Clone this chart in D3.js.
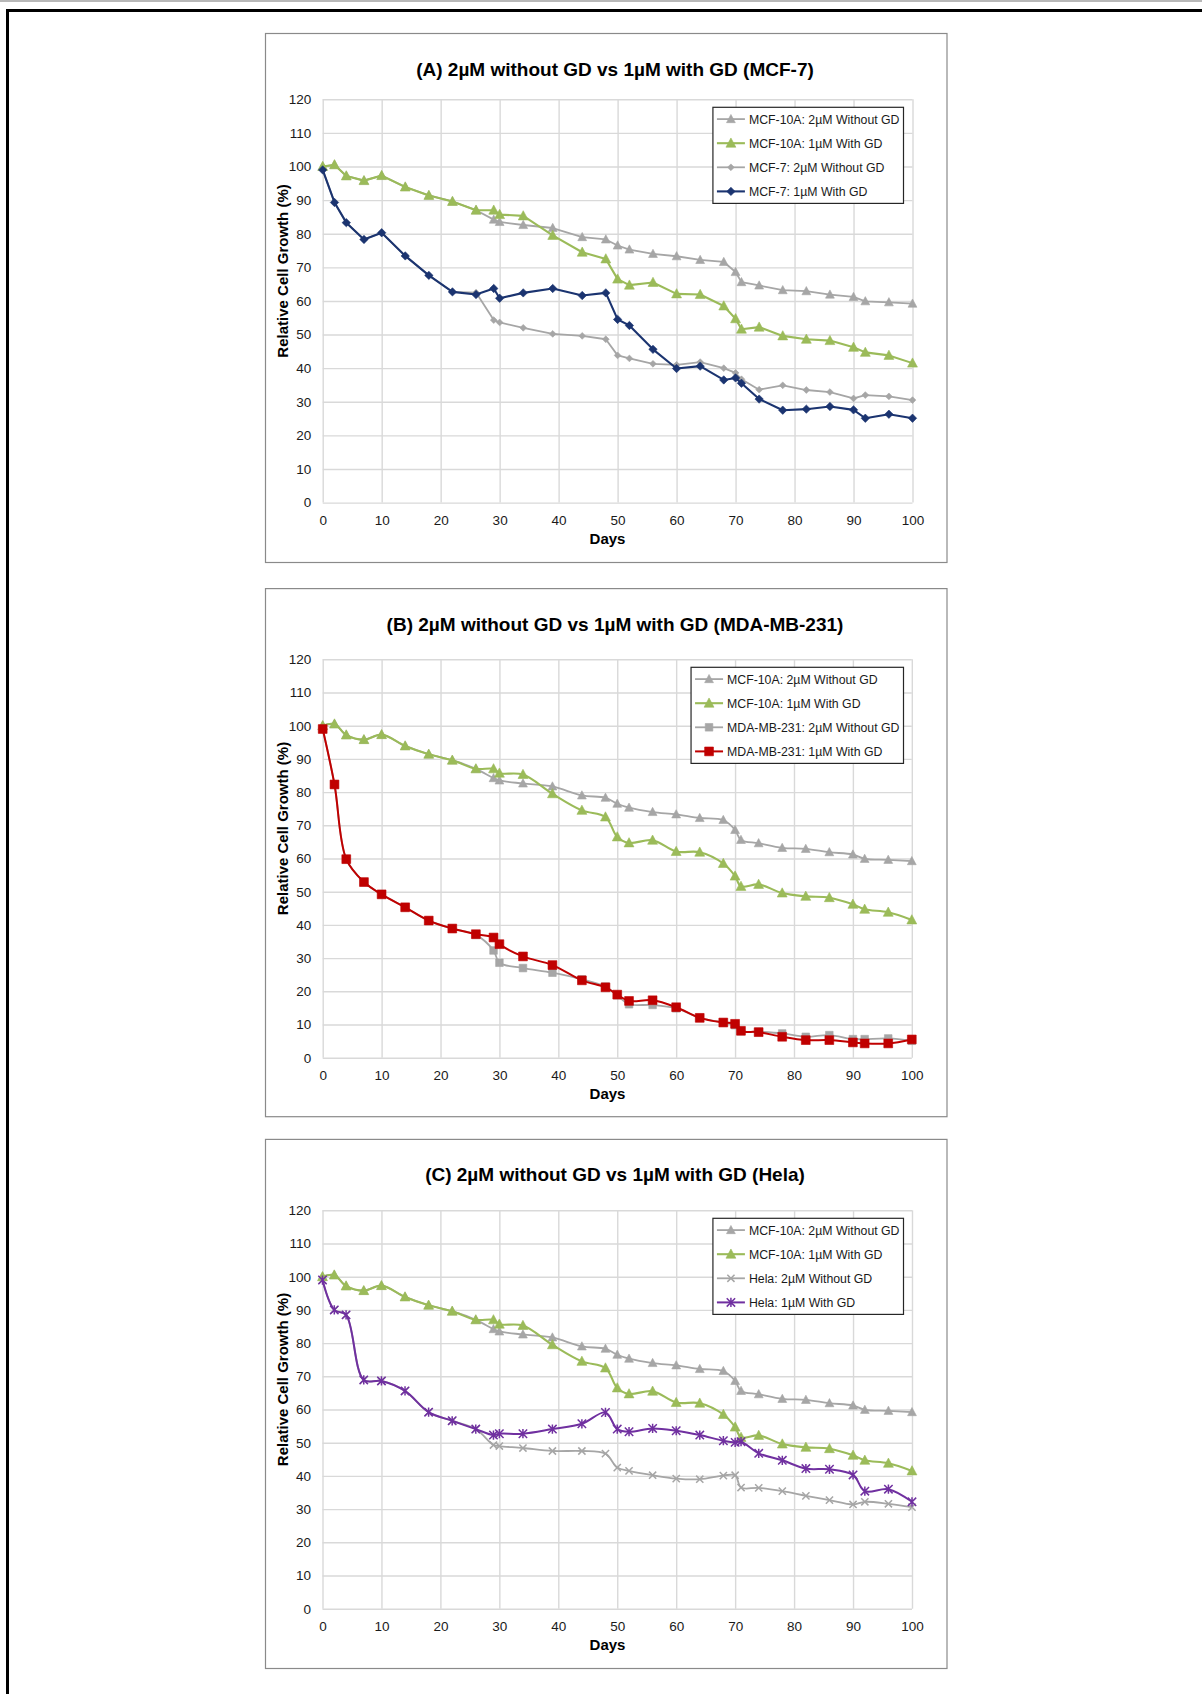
<!DOCTYPE html>
<html>
<head>
<meta charset="utf-8">
<script src="https://cdn.jsdelivr.net/npm/d3@7"></script>
<style>
  html, body { margin: 0; padding: 0; background: #fff; }
  svg { display: block; font-family: "Liberation Sans", Arial, Helvetica, sans-serif; }
</style>
</head>
<body>
<svg id="fig" width="1202" height="1694"></svg>
<script>
// ---- data -------------------------------------------------------------
const days = [0, 2, 4, 7, 10, 14, 18, 22, 26, 29, 30, 34, 39, 44, 48, 50, 52,
              56, 60, 64, 68, 70, 71, 74, 78, 82, 86, 90, 92, 96, 100];

const dayTicks = [0, 10, 20, 30, 40, 50, 60, 70, 80, 90, 100];
const growthTicks = [0, 10, 20, 30, 40, 50, 60, 70, 80, 90, 100, 110, 120];

// normal breast epithelial line (shared by all three panels)
const mcf10aWithoutGD = [100, 100.5, 97.2, 95.8, 97.3, 93.9, 91.4, 89.6, 87.0,
  84.2, 83.5, 82.6, 81.7, 79.0, 78.3, 76.5, 75.3,
  74.0, 73.3, 72.2, 71.6, 68.6, 65.6,
  64.6, 63.2, 62.9, 61.9, 61.2, 59.9, 59.6, 59.2];
const mcf10aWithGD = [100, 100.5, 97.2, 95.8, 97.3, 93.9, 91.4, 89.6, 87.0,
  87.0, 85.7, 85.3, 79.5, 74.5, 72.5, 66.5, 64.7,
  65.5, 62.1, 61.9, 58.5, 54.7, 51.6,
  52.2, 49.6, 48.6, 48.2, 46.2, 44.7, 43.8, 41.5];

// cancer lines
const mcf7WithoutGD = [99.0, 89.3, 83.3, 78.3, 80.3, 73.4, 67.6, 62.7, 62.5,
  54.3, 53.6, 52.0, 50.2, 49.6, 48.6, 43.8, 42.9,
  41.3, 41.0, 41.8, 40.0, 38.6, 36.7,
  33.6, 34.9, 33.5, 32.9, 31.0, 32.0, 31.6, 30.5];
const mcf7WithGD = [99.0, 89.3, 83.3, 78.3, 80.3, 73.4, 67.6, 62.7, 61.9,
  63.7, 60.8, 62.4, 63.7, 61.6, 62.4, 54.5, 52.7,
  45.6, 39.9, 40.6, 36.5, 37.1, 35.5,
  30.8, 27.5, 27.8, 28.6, 27.6, 25.1, 26.3, 25.1];

const mdaWithoutGD = [99.0, 82.3, 59.8, 52.9, 49.2, 45.3, 41.3, 38.9, 37.0,
  32.3, 28.6, 27.0, 25.6, 23.6, 21.4, 18.8, 16.1,
  15.9, 14.9, 12.0, 10.6, 9.8, 8.0,
  7.8, 7.3, 6.3, 6.8, 5.6, 5.6, 5.8, 5.1];
const mdaWithGD = [99.0, 82.3, 59.8, 52.9, 49.2, 45.3, 41.3, 38.9, 37.2,
  36.2, 34.2, 30.5, 27.9, 23.3, 21.2, 19.0, 17.1,
  17.3, 15.2, 12.0, 10.6, 10.2, 8.1,
  7.7, 6.3, 5.3, 5.3, 4.6, 4.3, 4.3, 5.5];

const helaWithoutGD = [99.0, 90.0, 88.5, 68.9, 68.6, 65.6, 59.2, 56.6, 54.1,
  49.3, 49.0, 48.4, 47.5, 47.5, 46.7, 42.5, 41.5,
  40.2, 39.2, 39.0, 40.1, 40.2, 36.5,
  36.4, 35.4, 34.0, 32.7, 31.4, 32.2, 31.6, 30.6];
const helaWithGD = [99.0, 90.0, 88.5, 68.9, 68.6, 65.6, 59.2, 56.6, 54.1,
  52.3, 52.7, 52.7, 54.1, 55.7, 59.1, 54.1, 53.3,
  54.3, 53.6, 52.3, 50.6, 50.1, 50.3,
  46.8, 44.7, 42.2, 42.0, 40.3, 35.4, 36.0, 32.2];

const panelTitles = [
  "(A) 2µM without GD vs 1µM with GD (MCF-7)",
  "(B) 2µM without GD vs 1µM with GD (MDA-MB-231)",
  "(C) 2µM without GD vs 1µM with GD (Hela)"
];
const seriesLabels = [
  ["MCF-10A: 2µM Without GD", "MCF-10A: 1µM With GD", "MCF-7: 2µM Without GD", "MCF-7: 1µM With GD"],
  ["MCF-10A: 2µM Without GD", "MCF-10A: 1µM With GD", "MDA-MB-231: 2µM Without GD", "MDA-MB-231: 1µM With GD"],
  ["MCF-10A: 2µM Without GD", "MCF-10A: 1µM With GD", "Hela: 2µM Without GD", "Hela: 1µM With GD"]
];
const xAxisTitle = "Days";
const yAxisTitle = "Relative Cell Growth (%)";

// ---- styles -----------------------------------------------------------
const GREY = "#a6a6a6";
const GREEN = "#9bbb59";
const NAVY = "#1b3470";
const RED = "#c00000";
const PURPLE = "#7030a0";

const normalStyles = [
  { color: GREY, marker: "triangle", size: 8.5, width: 1.8 },
  { color: GREEN, marker: "triangle", size: 9.5, width: 2.1 }
];

const panels = [
  {
    box: [265.5, 33.5, 947, 562.5],
    plot: { left: 322.7, right: 912.5, top: 99.3, bottom: 502.6 },
    smooth: false,
    series: [mcf10aWithoutGD, mcf10aWithGD, mcf7WithoutGD, mcf7WithGD],
    styles: [...normalStyles,
      { color: GREY, marker: "diamond", size: 3.4, width: 1.8 },
      { color: NAVY, marker: "diamond", size: 4.2, width: 2.1 }]
  },
  {
    box: [265.5, 588.6, 947, 1116.7],
    plot: { left: 322.7, right: 911.8, top: 659.3, bottom: 1057.7 },
    smooth: true,
    series: [mcf10aWithoutGD, mcf10aWithGD, mdaWithoutGD, mdaWithGD],
    styles: [...normalStyles,
      { color: GREY, marker: "square", size: 3.8, width: 1.8 },
      { color: RED, marker: "square", size: 4.4, width: 2.0 }]
  },
  {
    box: [265.5, 1139.4, 947, 1668.5],
    plot: { left: 322.5, right: 912, top: 1210.3, bottom: 1608.7 },
    smooth: true,
    series: [mcf10aWithoutGD, mcf10aWithGD, helaWithoutGD, helaWithGD],
    styles: [...normalStyles,
      { color: GREY, marker: "cross", size: 3.6, width: 1.8 },
      { color: PURPLE, marker: "star", size: 4.2, width: 2.0 }]
  }
];

// ---- helpers ----------------------------------------------------------
function markerPath(type, s) {
  switch (type) {
    case "triangle":
      return `M0,${-s * 0.55}L${s * 0.52},${s * 0.42}L${-s * 0.52},${s * 0.42}Z`;
    case "diamond":
      return `M0,${-s}L${s},0L0,${s}L${-s},0Z`;
    case "square":
      return `M${-s},${-s}H${s}V${s}H${-s}Z`;
    case "cross":
      return `M${-s},${-s}L${s},${s}M${-s},${s}L${s},${-s}`;
    case "star":
      return `M${-s},${-s}L${s},${s}M${-s},${s}L${s},${-s}M0,${-s * 1.1}L0,${s * 1.1}`;
  }
}
const strokedMarker = t => t === "cross" || t === "star";

function drawMarker(sel, st) {
  sel.attr("d", markerPath(st.marker, st.size))
    .attr("fill", strokedMarker(st.marker) ? "none" : st.color)
    .attr("stroke", st.color)
    .attr("stroke-width", strokedMarker(st.marker) ? 1.5 : 0.6)
    .attr("stroke-linejoin", "miter");
}

// ---- drawing ----------------------------------------------------------
const svg = d3.select("#fig");

// page frame
svg.append("rect").attr("x", 0).attr("y", 0).attr("width", 1202).attr("height", 2).attr("fill", "#b8b8b8");
svg.append("rect").attr("x", 6).attr("y", 9).attr("width", 1196).attr("height", 3).attr("fill", "#000");
svg.append("rect").attr("x", 6).attr("y", 9).attr("width", 3).attr("height", 1685).attr("fill", "#000");

panels.forEach((p, pi) => {
  const g = svg.append("g");
  const [bx0, by0, bx1, by1] = p.box;
  const { left, right, top, bottom } = p.plot;

  g.append("rect")
    .attr("x", bx0).attr("y", by0)
    .attr("width", bx1 - bx0).attr("height", by1 - by0)
    .attr("fill", "#fff").attr("stroke", "#8a8a8a").attr("stroke-width", 1.2);

  const x = d3.scaleLinear().domain([0, 100]).range([left, right]);
  const y = d3.scaleLinear().domain([0, 120]).range([bottom, top]);

  // gridlines + tick labels
  const yAxis = g.append("g")
    .attr("transform", `translate(${left},0)`)
    .call(d3.axisLeft(y).tickValues(growthTicks).tickSize(-(right - left)).tickPadding(11.5));
  const xAxis = g.append("g")
    .attr("transform", `translate(0,${bottom})`)
    .call(d3.axisBottom(x).tickValues(dayTicks).tickSize(-(bottom - top)).tickPadding(12.5));
  [xAxis, yAxis].forEach(a => {
    a.select(".domain").remove();
    a.selectAll(".tick line").attr("stroke", "#d9d9d9").attr("stroke-width", 1.4);
    a.selectAll(".tick text")
      .attr("fill", "#1a1a1a")
      .style("font-size", "13.5px")
      .style("font-family", "\"Liberation Sans\", Arial, sans-serif");
  });

  // title
  g.append("text")
    .attr("x", 615).attr("y", by0 + 42)
    .attr("text-anchor", "middle")
    .style("font-size", "19px").style("font-weight", "bold")
    .text(panelTitles[pi]);

  // axis titles
  g.append("text")
    .attr("x", 607.5).attr("y", bottom + 41.5)
    .attr("text-anchor", "middle")
    .style("font-size", "15px").style("font-weight", "bold")
    .text(xAxisTitle);
  g.append("text")
    .attr("transform", `translate(287.5,${(top + bottom) / 2 - 30}) rotate(-90)`)
    .attr("text-anchor", "middle")
    .style("font-size", "15px").style("font-weight", "bold")
    .text(yAxisTitle);

  // series
  const line = d3.line()
    .x(d => x(d[0])).y(d => y(d[1]))
    .curve(p.smooth ? d3.curveCatmullRom.alpha(0.5) : d3.curveLinear);

  p.series.forEach((vals, si) => {
    const st = p.styles[si];
    const pts = days.map((d, i) => [d, vals[i]]);
    const sg = g.append("g");
    sg.append("path")
      .attr("d", line(pts))
      .attr("fill", "none")
      .attr("stroke", st.color)
      .attr("stroke-width", st.width)
      .attr("stroke-linejoin", "round");
    sg.selectAll("path.mk")
      .data(pts)
      .join("path")
      .attr("class", "mk")
      .attr("transform", d => `translate(${x(d[0])},${y(d[1])})`)
      .call(drawMarker, st);
  });

  // legend
  const legRight = 903.5;
  const legTop = top + 8;
  const rowGap = 24.1;
  const leg = g.append("g");
  const legRect = leg.append("rect")
    .attr("fill", "#fff").attr("stroke", "#262626").attr("stroke-width", 1.2);
  const items = leg.selectAll("g.item")
    .data(seriesLabels[pi])
    .join("g").attr("class", "item");
  items.append("text")
    .attr("y", (d, i) => legTop + 11.8 + i * rowGap + 4.4)
    .style("font-size", "12.3px")
    .attr("fill", "#1a1a1a")
    .text(d => d);
  let maxW = 0;
  items.selectAll("text").each(function () { maxW = Math.max(maxW, this.getComputedTextLength()); });
  const legLeft = legRight - (maxW + 40);
  legRect.attr("x", legLeft).attr("y", legTop)
    .attr("width", legRight - legLeft).attr("height", 12 + 3 * rowGap + 11.8);
  items.select("text").attr("x", legLeft + 36);
  items.each(function (d, i) {
    const st = p.styles[i];
    const cy = legTop + 11.8 + i * rowGap;
    const it = d3.select(this);
    it.insert("line", "text")
      .attr("x1", legLeft + 4).attr("x2", legLeft + 32)
      .attr("y1", cy).attr("y2", cy)
      .attr("stroke", st.color).attr("stroke-width", st.width);
    it.insert("path", "text")
      .attr("transform", `translate(${legLeft + 18},${cy})`)
      .call(drawMarker, st);
  });
});
</script>
</body>
</html>
